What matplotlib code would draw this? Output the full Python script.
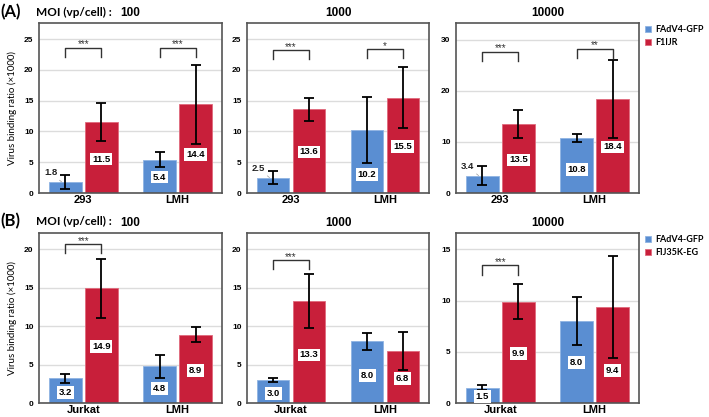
import matplotlib
matplotlib.use("Agg")
import matplotlib.pyplot as plt
import numpy as np

# ---------------- data ----------------
moi_levels = ["100", "1000", "10000"]
cells_A = ["293", "LMH"]
cells_B = ["Jurkat", "LMH"]
series_A = ["FAdV4-GFP", "F1IJR"]
series_B = ["FAdV4-GFP", "FIJ35K-EG"]

A_gfp = [[1.8, 5.4], [2.5, 10.2], [3.4, 10.8]]
A_gfp_err = [[1.1, 1.2], [1.0, 5.4], [1.8, 0.8]]
A_f1 = [[11.5, 14.4], [13.6, 15.5], [13.5, 18.4]]
A_f1_err = [[3.1, 6.4], [1.9, 4.9], [2.7, 7.6]]

B_gfp = [[3.2, 4.8], [3.0, 8.0], [1.5, 8.0]]
B_gfp_err = [[0.6, 1.5], [0.3, 1.1], [0.26, 2.35]]
B_fij = [[14.9, 8.9], [13.3, 6.8], [9.9, 9.4]]
B_fij_err = [[3.8, 1.0], [3.5, 2.45], [1.7, 5.0]]

sig_A = [[(0, "***"), (1, "***")], [(0, "***"), (1, "*")], [(0, "***"), (1, "**")]]
sig_B = [[(0, "***")], [(0, "***")], [(0, "***")]]

# ---------------- style / layout ----------------
BLUE = "#5A8ED2"
RED = "#C81F3A"
NUM_FONT = "Liberation Sans"
TXT_FONT = "Lato"

ylim_A = [27.6, 27.6, 33.3]
ystep_A = [5, 5, 10]
ylim_B = [22.1, 22.1, 16.6]
ystep_B = [5, 5, 5]
bracket_y_A = [[23.6, 23.6], [23.2, 23.4], [27.7, 28.3]]
bracket_y_B = [[20.7], [18.6], [13.45]]
# label position as fraction of bar height (None -> label above bar)
lab_A_blue = [[None, 0.48], [None, 0.29], [None, 0.42]]
lab_A_red = [[0.48, 0.43], [0.49, 0.49], [0.48, 0.49]]
lab_B_blue = [[0.42, 0.40], [0.42, 0.45], [0.43, 0.49]]
lab_B_red = [[0.49, 0.47], [0.47, 0.47], [0.49, 0.34]]

W, H = 709, 417
fig = plt.figure(figsize=(W / 100, H / 100), dpi=100)

col_px = [(39, 222), (247, 429), (456, 639)]
row_px = [(23, 193), (233, 403)]


def make_ax(r, c):
    x0, x1 = col_px[c]
    y0, y1 = row_px[r]
    return fig.add_axes([x0 / W, 1 - y1 / H, (x1 - x0) / W, (y1 - y0) / H])


off = 0.19
bw = 0.345


def draw_panel(ax, cells, blue, blue_err, red, red_err, ytop, ystep,
               sig, br_y, lab_b, lab_r, title):
    x = np.arange(len(cells))
    ax.set_axisbelow(True)
    ax.yaxis.grid(True, color="#DCDCDC", lw=1.0)
    b1 = ax.bar(x - off, blue, bw, color=BLUE, edgecolor="#8FB3E3", lw=0.6, zorder=2)
    b2 = ax.bar(x + off, red, bw, color=RED, edgecolor="#E06A7C", lw=0.6, zorder=2)
    ax.errorbar(x - off, blue, yerr=blue_err, fmt="none", ecolor="black",
                elinewidth=1.3, capsize=3.8, capthick=1.3, zorder=3)
    ax.errorbar(x + off, red, yerr=red_err, fmt="none", ecolor="black",
                elinewidth=1.3, capsize=3.8, capthick=1.3, zorder=3)
    box = dict(boxstyle="square,pad=0.2", fc="white", ec="none")
    for xi, v, f in zip(x - off, blue, lab_b):
        if f is None:
            ax.annotate(f"{v:.1f}", xy=(xi - 0.04, v), xytext=(-8, 6.5),
                        textcoords="offset points", ha="center", va="center",
                        fontsize=6.8, fontweight="bold", family=NUM_FONT,
                        color="#222222", zorder=5,
                        arrowprops=dict(arrowstyle="-", color="#999999", lw=0.5,
                                        shrinkA=3, shrinkB=0))
        else:
            ax.text(xi, v * f, f"{v:.1f}", ha="center", va="center",
                    fontsize=6.8, fontweight="bold", family=NUM_FONT,
                    bbox=box, zorder=5)
    for xi, v, f in zip(x + off, red, lab_r):
        ax.text(xi, v * f, f"{v:.1f}", ha="center", va="center",
                fontsize=6.8, fontweight="bold", family=NUM_FONT,
                bbox=box, zorder=5)
    arm = 0.055 * ytop
    for (gi, stars), yb in zip(sig, br_y):
        xa, xb = gi - off, gi + off
        ax.plot([xa, xa, xb, xb], [yb - arm, yb, yb, yb - arm],
                color="#333333", lw=1.0, zorder=4)
        ax.text(gi, yb + 0.018 * ytop, stars, ha="center", va="center",
                fontsize=7, family=NUM_FONT, color="#333333")
    ax.set_xlim(-0.47, 1.47)
    ax.set_ylim(0, ytop)
    ax.set_yticks(np.arange(0, ytop, ystep))
    ax.set_xticks(x)
    ax.set_xticklabels(cells, fontsize=8, fontweight="bold", family=NUM_FONT)
    ax.tick_params(axis="x", length=0, pad=1.5)
    ax.tick_params(axis="y", length=0, pad=4, labelsize=6)
    for t in ax.get_yticklabels():
        t.set_fontweight("bold")
        t.set_family(NUM_FONT)
    for s in ax.spines.values():
        s.set_color("#555555")
        s.set_linewidth(1.2)
    ax.set_title(title, fontsize=8.5, fontweight="bold", family=NUM_FONT, pad=5)
    return b1, b2


for row in range(2):
    for c in range(3):
        ax = make_ax(row, c)
        if row == 0:
            h = draw_panel(ax, cells_A, A_gfp[c], A_gfp_err[c], A_f1[c], A_f1_err[c],
                           ylim_A[c], ystep_A[c], sig_A[c], bracket_y_A[c],
                           lab_A_blue[c], lab_A_red[c], moi_levels[c])
            names = series_A
        else:
            h = draw_panel(ax, cells_B, B_gfp[c], B_gfp_err[c], B_fij[c], B_fij_err[c],
                           ylim_B[c], ystep_B[c], sig_B[c], bracket_y_B[c],
                           lab_B_blue[c], lab_B_red[c], moi_levels[c])
            names = series_B
        if c == 0:
            ax.set_ylabel("Virus binding ratio (\u00d71000)", fontsize=7,
                          family=TXT_FONT, labelpad=5)
        if c == 2:
            leg = ax.legend(h, names, loc="upper left", bbox_to_anchor=(1.0, 1.02),
                            frameon=False, handlelength=0.7, handleheight=0.7,
                            handletextpad=0.4, labelspacing=0.4, borderaxespad=0.25,
                            prop=dict(family=TXT_FONT, size=6.5, weight="bold"))

# panel letters and MOI labels
for ylab, letter in [(12, "(A)"), (221, "(B)")]:
    fig.text(0 / W, 1 - ylab / H, letter, fontsize=12, fontweight="bold",
             family=TXT_FONT, va="center", ha="left")
    fig.text(36 / W, 1 - ylab / H, "MOI (vp/cell) :", fontsize=8.5, fontweight="bold",
             family=TXT_FONT, va="center", ha="left")

fig.savefig("out.png", dpi=100)
